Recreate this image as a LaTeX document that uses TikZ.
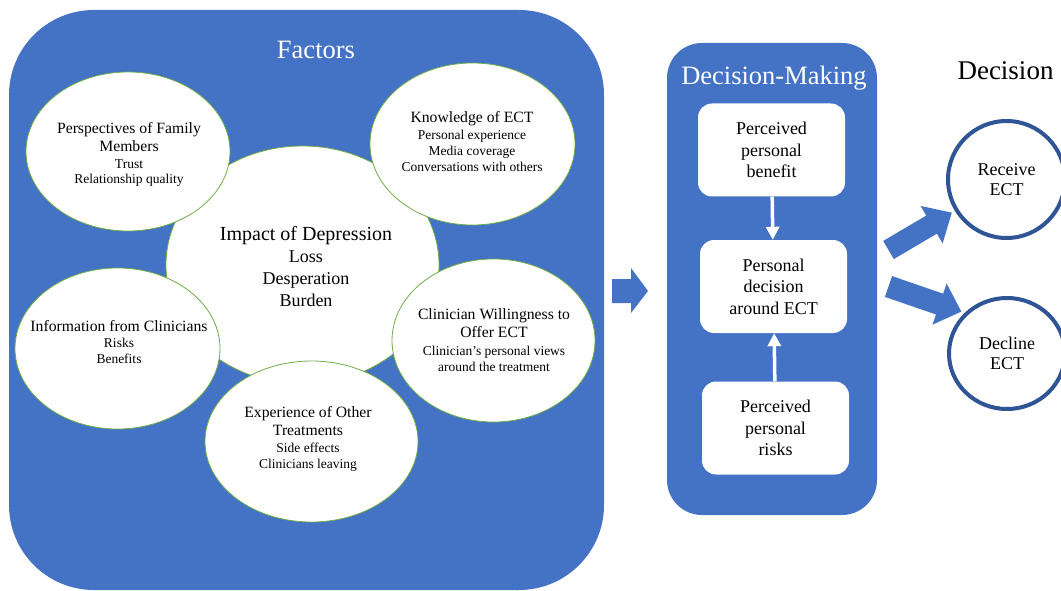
\documentclass[tikz,border=0pt]{standalone}
\usepackage{fontspec}
\setmainfont{Liberation Serif}
\usetikzlibrary{shapes.geometric,arrows.meta}
\definecolor{panelblue}{HTML}{4472C4}
\definecolor{ringblue}{HTML}{2F5597}
\definecolor{leafgreen}{HTML}{70AD47}
% smaller type for the bullet-free detail lines inside the factor bubbles
\newcommand{\subf}{\fontsize{13.5}{16}\selectfont}
\newcommand{\impf}{\fontsize{18}{22}\selectfont}

\begin{document}
\begin{tikzpicture}[x=1pt,y=-1pt,
  panel/.style={rectangle, fill=panelblue, draw=none, inner sep=0pt},
  factor/.style={ellipse, fill=white, draw=leafgreen, line width=0.8pt, inner sep=0pt},
  factortext/.style={align=center, inner sep=0pt, font=\fontsize{15.7}{18}\selectfont},
  stepbox/.style={rectangle, rounded corners=14pt, fill=white, inner sep=0pt,
    minimum width=147pt, minimum height=93pt, align=center,
    font=\fontsize{18}{21.5}\selectfont},
  outcome/.style={ellipse, fill=white, draw=ringblue, line width=4pt, inner sep=0pt,
    align=center, font=\fontsize{18}{20}\selectfont},
  paneltitle/.style={text=white, font=\fontsize{26.5}{30}\selectfont, inner sep=0pt, anchor=base},
  feed/.style={draw=white, line width=3.5pt, -{Triangle[width=13pt,length=13pt]}},
  blockarrow/.style={fill=panelblue}
]
\useasboundingbox (0,0) rectangle (1061,591);

% ---------------- Factors panel ----------------
\node[panel, rounded corners=85pt, minimum width=595pt, minimum height=580pt] (factors) at (306.5,300) {};
\node[paneltitle] (factorstitle) at (316,59) {Factors};

\node[factor, minimum width=273pt, minimum height=238pt] (impact) at (302.5,265) {};
\node[factor, minimum width=204pt, minimum height=159pt] (family) at (128,151.5) {};
\node[factor, minimum width=205pt, minimum height=162pt] (knowledge) at (472.5,144) {};
\node[factor, minimum width=205pt, minimum height=161pt] (information) at (117.5,348.5) {};
\node[factor, minimum width=203pt, minimum height=163pt] (willing) at (493.5,340.5) {};
\node[factor, minimum width=213pt, minimum height=161pt] (experience) at (311.5,441.5) {};

\node[factortext, font=\fontsize{20}{22}\selectfont] (impacttext) at (306,266.5)
  {Impact of Depression\\{\impf Loss}\\{\impf Desperation}\\{\impf Burden}};
\node[factortext] (familytext) at (129,154)
  {Perspectives of Family\\Members\\[-1pt]{\subf Trust}\\[-3pt]{\subf Relationship quality}};
\node[factortext] (knowledgetext) at (472,142)
  {Knowledge of ECT\\[-1pt]{\subf Personal experience}\\[-2pt]{\subf Media coverage}\\[-2pt]{\subf Conversations with others}};
\node[factortext] (informationtext) at (119,342.5)
  {Information from Clinicians\\[-2pt]{\subf Risks}\\[-2pt]{\subf Benefits}};
\node[factortext] (willingtext) at (494,340.5)
  {Clinician Willingness to\\Offer ECT\\{\subf Clinician's personal views}\\[-2pt]{\subf around the treatment}};
\node[factortext] (experiencetext) at (308,438.5)
  {Experience of Other\\Treatments\\[-1pt]{\subf Side effects}\\[-2pt]{\subf Clinicians leaving}};

% ---------------- arrow into decision-making ----------------
\fill[blockarrow] (612,279) -- (631,279) -- (631,268) -- (648,291) -- (631,313) -- (631,303) -- (612,303) -- cycle;

% ---------------- Decision-Making panel ----------------
\node[panel, rounded corners=35pt, minimum width=210pt, minimum height=472pt] (dm) at (772,279) {};
\node[paneltitle] (dmtitle) at (774,85) {Decision-Making};

\node[stepbox] (benefit) at (771.5,150) {Perceived\\personal\\benefit};
\node[stepbox] (decide) at (773.5,286.5) {Personal\\decision\\around ECT};
\node[stepbox] (risks) at (775.5,428) {Perceived\\personal\\risks};

\draw[feed] (benefit) -- (decide);
\draw[feed] (risks) -- (decide);

% ---------------- Decision outcomes ----------------
\node[inner sep=0pt, anchor=base, font=\fontsize{27}{30}\selectfont] (dectitle) at (1005.5,80) {Decision};

\node[outcome, minimum width=117pt, minimum height=117pt] (receive) at (1006.5,179.5) {Receive\\ECT};
\node[outcome, minimum width=116pt, minimum height=111pt] (decline) at (1007,353.5) {Decline\\ECT};

\fill[blockarrow, shift={(888.5,250)}, rotate=30.5]
  (0,-10.5) -- (50,-10.5) -- (50,-21.7) -- (73.5,0) -- (50,21.7) -- (50,10.5) -- (0,10.5) -- cycle;
\fill[blockarrow, shift={(888.5,286.5)}, rotate=-19]
  (0,-11) -- (54,-11) -- (54,-21.8) -- (77,0) -- (54,21.8) -- (54,11) -- (0,11) -- cycle;
\end{tikzpicture}
\end{document}
